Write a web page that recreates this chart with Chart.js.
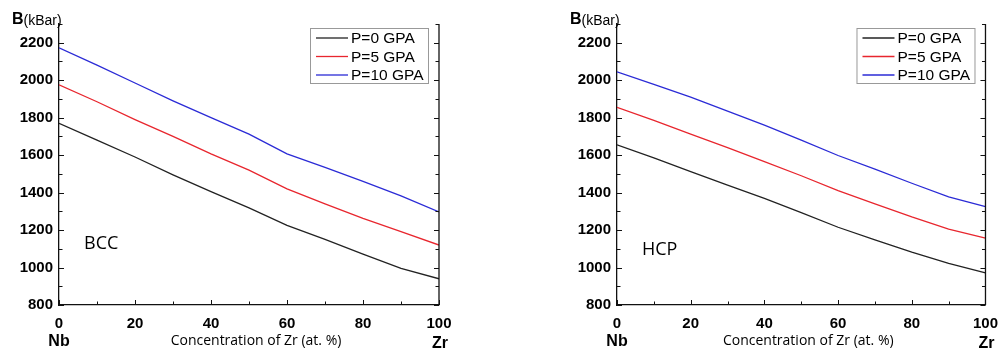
<!DOCTYPE html>
<html>
<head>
<meta charset="utf-8">
<script src="https://cdn.jsdelivr.net/npm/chart.js@4/dist/chart.umd.min.js"></script>
<style>
  html, body { margin: 0; padding: 0; background: #fff; }
  .wrap { position: absolute; top: 0; width: 504px; height: 351px; }
  #w1 { left: 0; } #w2 { left: 504px; }
</style>
</head>
<body>
<div class="wrap" id="w1"><canvas id="c1"></canvas></div>
<div class="wrap" id="w2"><canvas id="c2"></canvas></div>
<script>
// ---- data ----
const xValues = [0, 10, 20, 30, 40, 50, 60, 70, 80, 90, 100];
const seriesLabels = ['P=0 GPA', 'P=5 GPA', 'P=10 GPA'];
const bccP0  = [1770, 1680, 1590, 1495, 1405, 1318, 1225, 1150, 1072, 995, 940];
const bccP5  = [1975, 1885, 1790, 1700, 1607, 1520, 1420, 1340, 1262, 1192, 1120];
const bccP10 = [2173, 2080, 1985, 1890, 1800, 1712, 1607, 1535, 1460, 1382, 1297];
const hcpP0  = [1655, 1585, 1512, 1440, 1369, 1293, 1215, 1148, 1082, 1022, 972];
const hcpP5  = [1855, 1785, 1712, 1640, 1565, 1490, 1410, 1340, 1270, 1205, 1157];
const hcpP10 = [2045, 1978, 1910, 1835, 1760, 1680, 1598, 1525, 1450, 1377, 1325];
const yTickValues = [800, 1000, 1200, 1400, 1600, 1800, 2000, 2200];
const xTickValues = [0, 20, 40, 60, 80, 100];
const seriesColors = ['#222222', '#e8262e', '#2b2bd6'];

function makeChart(id, phaseLabel, series, padLeft, padRight) {
  const datasets = series.map((arr, i) => ({
    label: seriesLabels[i],
    data: arr.map((v, j) => ({ x: xValues[j], y: v })),
    borderColor: seriesColors[i],
    borderWidth: 1.3,
    pointRadius: 0,
    fill: false,
    tension: 0
  }));

  const decor = {
    id: 'decor',
    afterDraw(chart) {
      const ctx = chart.ctx;
      const a = chart.chartArea;
      const xs = chart.scales.x, ys = chart.scales.y;
      ctx.save();
      ctx.strokeStyle = '#111';
      ctx.lineWidth = 1.3;
      // right axis
      ctx.beginPath();
      ctx.moveTo(a.right, a.top); ctx.lineTo(a.right, a.bottom);
      ctx.stroke();
      // y ticks (inward) on both sides
      ctx.lineWidth = 1;
      for (let v = ys.min; v <= ys.max; v += 100) {
        const py = Math.round(ys.getPixelForValue(v)) + 0.5;
        const len = (v % 200 === 0) ? 5 : 3.5;
        ctx.beginPath();
        ctx.moveTo(a.left, py); ctx.lineTo(a.left + len, py);
        ctx.moveTo(a.right, py); ctx.lineTo(a.right - len, py);
        ctx.stroke();
      }
      // x ticks (inward)
      for (let v = xs.min; v <= xs.max; v += 10) {
        const px = Math.round(xs.getPixelForValue(v)) + 0.5;
        const len = (v % 20 === 0) ? 5 : 3.5;
        ctx.beginPath();
        ctx.moveTo(px, a.bottom); ctx.lineTo(px, a.bottom - len);
        ctx.stroke();
      }
      // axis title top-left
      ctx.fillStyle = '#000';
      ctx.textBaseline = 'middle';
      ctx.textAlign = 'left';
      ctx.font = 'bold 16px "Liberation Sans", Arial, sans-serif';
      const bx = a.left - 47;
      ctx.fillText('B', bx, 20);
      const bw = ctx.measureText('B').width;
      ctx.font = '14px "Liberation Sans", Arial, sans-serif';
      ctx.fillText('(kBar)', bx + bw, 21);
      // Nb / Zr
      ctx.textAlign = 'center';
      ctx.font = 'bold 16px "Liberation Sans", Arial, sans-serif';
      ctx.fillText('Nb', a.left, 342);
      ctx.fillText('Zr', a.right + 1, 344);
      // x axis title
      ctx.font = '14px "Open Sans", sans-serif';
      ctx.fillText('Concentration of Zr (at. %)', (a.left + a.right) / 2 + 7, 341);
      // phase label
      ctx.textAlign = 'left';
      ctx.font = '18px "Open Sans", sans-serif';
      ctx.fillText(phaseLabel, a.left + 25, 244 + (phaseLabel === 'HCP' ? 6 : 0));
      // legend
      const lx = a.right - 129, ly = 28, lw = 118, lh = 55;
      ctx.fillStyle = '#fff';
      ctx.fillRect(lx, ly, lw, lh);
      ctx.strokeStyle = '#999';
      ctx.lineWidth = 1;
      ctx.strokeRect(lx + 0.5, ly + 0.5, lw, lh);
      ctx.font = '15.5px "Liberation Sans", Arial, sans-serif';
      chart.data.datasets.forEach((ds, i) => {
        const yy = ly + 10 + i * 18.5;
        ctx.strokeStyle = ds.borderColor;
        ctx.lineWidth = 1.3;
        ctx.beginPath();
        ctx.moveTo(lx + 6, yy); ctx.lineTo(lx + 38, yy);
        ctx.stroke();
        ctx.fillStyle = '#000';
        ctx.fillText(ds.label, lx + 41, yy + 1);
      });
      ctx.restore();
    }
  };

  const tickFont = { family: '"Liberation Sans", Arial, sans-serif', size: 15, weight: 'bold' };
  return new Chart(document.getElementById(id), {
    type: 'line',
    data: { datasets },
    options: {
      responsive: true,
      maintainAspectRatio: false,
      animation: false,
      layout: { padding: { top: 24, right: padRight, bottom: 0, left: padLeft } },
      plugins: { legend: { display: false }, tooltip: { enabled: false } },
      scales: {
        x: {
          type: 'linear', min: 0, max: 100,
          grid: { display: false, drawTicks: false },
          border: { display: true, color: '#111', width: 1.3 },
          afterBuildTicks: s => { s.ticks = xTickValues.map(v => ({ value: v })); },
          afterFit: s => { s.height = 46; },
          ticks: { padding: 10, color: '#000', maxRotation: 0, font: tickFont, callback: v => String(v) }
        },
        y: {
          type: 'linear', min: 800, max: 2300,
          grid: { display: false, drawTicks: false },
          border: { display: true, color: '#111', width: 1.3 },
          afterBuildTicks: s => { s.ticks = yTickValues.map(v => ({ value: v })); },
          afterFit: s => { s.width = 59; },
          ticks: { padding: 6, color: '#000', font: tickFont, callback: v => String(v) }
        }
      }
    },
    plugins: [decor]
  });
}

makeChart('c1', 'BCC', [bccP0, bccP5, bccP10], 0, 65);
makeChart('c2', 'HCP', [hcpP0, hcpP5, hcpP10], 54, 9);
</script>
</body>
</html>
